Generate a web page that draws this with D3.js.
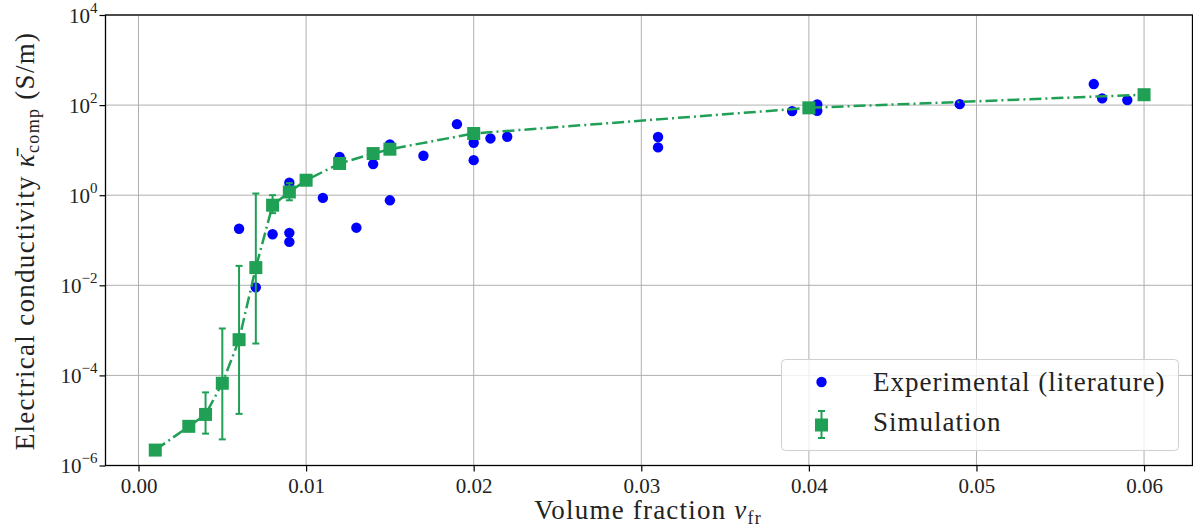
<!DOCTYPE html>
<html>
<head>
<meta charset="utf-8">
<style>
body { margin: 0; background: #fff; }
svg { display: block; }
text { font-family: "Liberation Serif", "DejaVu Serif", serif; fill: #222; }
</style>
<script src="https://cdn.jsdelivr.net/npm/d3@7"></script>
</head>
<body>
<svg width="1193" height="529"></svg>
<script>
// experimental points from literature
var expX = [0.006, 0.007, 0.008, 0.009, 0.009, 0.009, 0.011, 0.012, 0.013, 0.014, 0.015, 0.015,
            0.017, 0.019, 0.020, 0.020, 0.021, 0.022, 0.031, 0.031, 0.039, 0.0405, 0.0405,
            0.049, 0.057, 0.0575, 0.059];
var expY = [0.18, 0.009, 0.136, 0.146, 0.092, 1.9, 0.87, 7.1, 0.19, 4.9, 13.4, 0.77,
            7.5, 37.8, 14.6, 6.0, 18.2, 19.8, 19.6, 11.5, 73.6, 103, 75,
            105, 293, 141, 129];

// simulation with error bars
var simX  = [0.001, 0.003, 0.004, 0.005, 0.006, 0.007, 0.008, 0.009, 0.010, 0.012, 0.014, 0.015, 0.020, 0.040, 0.060];
var simY  = [2.2e-6, 7.4e-6, 1.36e-5, 6.7e-5, 6.2e-4, 0.0247, 0.6, 1.18, 2.15, 5.06, 8.4, 10.5, 23.4, 87, 170];
var simLo = [null, null, 5.1e-6, 3.8e-6, 1.4e-5, 5.1e-4, 0.40, 0.77, null, null, null, null, null, null, null];
var simHi = [null, null, 4.2e-5, 1.1e-3, 0.027, 1.09, 1.0, 1.85, null, null, null, null, null, null, null];

var xTicks = [0, 0.01, 0.02, 0.03, 0.04, 0.05, 0.06];
var yTicks = [1e-6, 1e-4, 1e-2, 1e0, 1e2, 1e4];

var green = "#1fa055", blue = "#0000ff";

var svg = d3.select("svg"),
    pL = 105.5, pR = 1192.5, pT = 15, pB = 465.5;

var x = d3.scaleLinear().domain([-0.00197, 0.06295]).range([pL, pR + 1]);
var y = d3.scaleLog().domain([1e-6, 1e4]).range([pB, pT]);

// grid
svg.append("g").selectAll("line").data(xTicks).enter().append("line")
  .attr("x1", d => x(d)).attr("x2", d => x(d)).attr("y1", pT).attr("y2", pB)
  .attr("stroke", "#b0b0b0").attr("stroke-width", 1);
svg.append("g").selectAll("line").data(yTicks).enter().append("line")
  .attr("x1", pL).attr("x2", pR).attr("y1", d => y(d)).attr("y2", d => y(d))
  .attr("stroke", "#b0b0b0").attr("stroke-width", 1);

// axes
var xAxis = svg.append("g").attr("transform", "translate(0," + pB + ")")
  .call(d3.axisBottom(x).tickValues(xTicks).tickSize(6).tickPadding(6).tickFormat(d3.format(".2f")));
var yAxis = svg.append("g").attr("transform", "translate(" + pL + ",0)")
  .call(d3.axisLeft(y).tickValues(yTicks).tickSize(6).tickPadding(6).tickFormat(""));
svg.selectAll(".domain").remove();
svg.selectAll(".tick line").attr("stroke", "#000").attr("stroke-width", 1.2);
xAxis.selectAll("text").style("font-size", "21px").attr("fill", "#222")
  .style("font-family", "'Liberation Serif', serif").attr("dy", "0.76em");

// y tick labels as 10^n
yAxis.selectAll(".tick").each(function(d) {
  var e = Math.round(Math.log10(d));
  var t = d3.select(this).append("text").attr("x", -8).attr("y", 7)
    .attr("text-anchor", "end").style("font-size", "21px").attr("fill", "#222");
  t.append("tspan").text("10");
  t.append("tspan").attr("dy", -10).style("font-size", "15px").text(e < 0 ? "\u2212" + (-e) : e);
});

// spines
svg.append("rect").attr("x", pL).attr("y", pT).attr("width", pR - pL).attr("height", pB - pT)
  .attr("fill", "none").attr("stroke", "#000").attr("stroke-width", 1.3);

// experimental circles
svg.append("g").selectAll("circle").data(expX).enter().append("circle")
  .attr("cx", d => x(d)).attr("cy", (d, i) => y(expY[i])).attr("r", 5.2).attr("fill", blue);

// error bars
var eb = svg.append("g").attr("stroke", green).attr("stroke-width", 2);
simX.forEach(function(d, i) {
  if (simLo[i] == null) return;
  var cx = x(d);
  eb.append("line").attr("x1", cx).attr("x2", cx).attr("y1", y(simLo[i])).attr("y2", y(simHi[i]));
  eb.append("line").attr("x1", cx - 3.5).attr("x2", cx + 3.5).attr("y1", y(simLo[i])).attr("y2", y(simLo[i]));
  eb.append("line").attr("x1", cx - 3.5).attr("x2", cx + 3.5).attr("y1", y(simHi[i])).attr("y2", y(simHi[i]));
});

// simulation line
var line = d3.line().x(d => x(d)).y((d, i) => y(simY[i]));
svg.append("path").datum(simX).attr("d", line).attr("fill", "none")
  .attr("stroke", green).attr("stroke-width", 2.5).attr("stroke-dasharray", "12,4,2,4");

// simulation squares
var s = 13;
svg.append("g").selectAll("rect").data(simX).enter().append("rect")
  .attr("x", d => x(d) - s / 2).attr("y", (d, i) => y(simY[i]) - s / 2)
  .attr("width", s).attr("height", s).attr("fill", green);

// legend
var lg = svg.append("g");
lg.append("rect").attr("x", 781.5).attr("y", 359.5).attr("width", 397).attr("height", 91).attr("rx", 4)
  .attr("fill", "#fff").attr("fill-opacity", 0.8).attr("stroke", "#d0d0d0").attr("stroke-width", 1);
lg.append("circle").attr("cx", 821.5).attr("cy", 382).attr("r", 5.2).attr("fill", blue);
lg.append("line").attr("x1", 821.5).attr("x2", 821.5).attr("y1", 411).attr("y2", 438).attr("stroke", green).attr("stroke-width", 2);
lg.append("line").attr("x1", 818).attr("x2", 825).attr("y1", 411).attr("y2", 411).attr("stroke", green).attr("stroke-width", 2);
lg.append("line").attr("x1", 818).attr("x2", 825).attr("y1", 438).attr("y2", 438).attr("stroke", green).attr("stroke-width", 2);
lg.append("rect").attr("x", 815).attr("y", 418.5).attr("width", 13).attr("height", 13).attr("fill", green);
lg.append("text").attr("x", 873).attr("y", 391).style("font-size", "27px").style("letter-spacing", "1px")
  .text("Experimental (literature)");
lg.append("text").attr("x", 873).attr("y", 431).style("font-size", "27px").style("letter-spacing", "1px")
  .text("Simulation");

// axis labels
var xl = svg.append("text").attr("x", 648).attr("y", 519).attr("text-anchor", "middle")
  .style("font-size", "27px").style("letter-spacing", "1.2px");
xl.append("tspan").text("Volume fraction ");
xl.append("tspan").style("font-style", "italic").text("v");
xl.append("tspan").attr("dy", 5).style("font-size", "18px").text("fr");

var yl = svg.append("text").attr("transform", "translate(34,241) rotate(-90)")
  .attr("text-anchor", "middle").style("font-size", "27px").style("letter-spacing", "1.3px");
yl.append("tspan").text("Electrical conductivity ");
yl.append("tspan").style("font-style", "italic").text("\u03BA\u0304");
yl.append("tspan").attr("dy", 5).style("font-size", "18px").text("comp");
yl.append("tspan").attr("dy", -5).text(" (S/m)");
</script>
</body>
</html>
